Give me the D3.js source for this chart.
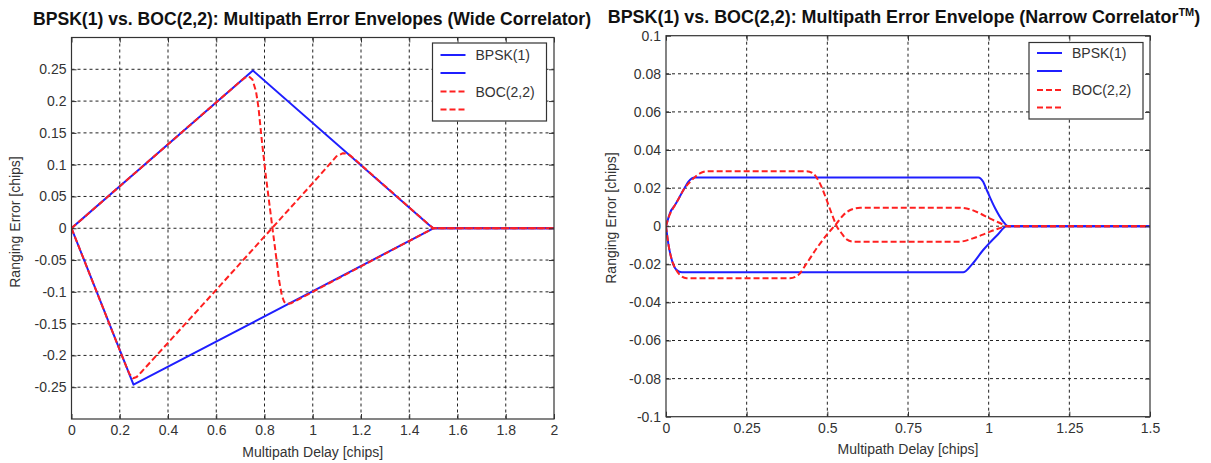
<!DOCTYPE html>
<html><head><meta charset="utf-8">
<script src="https://cdn.jsdelivr.net/npm/d3@7"></script>
<style>
body{margin:0;background:#fff;}
text{font-family:"Liberation Sans",Arial,sans-serif;}
</style>
</head><body>
<script>
// ---------- Wide correlator panel data ----------
const wideXTicks = [0, 0.2, 0.4, 0.6, 0.8, 1, 1.2, 1.4, 1.6, 1.8, 2];
const wideXTickLabels = ["0","0.2","0.4","0.6","0.8","1","1.2","1.4","1.6","1.8","2"];
const wideYTicks = [-0.25, -0.2, -0.15, -0.1, -0.05, 0, 0.05, 0.1, 0.15, 0.2, 0.25];
const wideYTickLabels = ["-0.25","-0.2","-0.15","-0.1","-0.05","0","0.05","0.1","0.15","0.2","0.25"];

const wideBpskUpperX = [0, 0.752, 1.48, 1.5, 2];
const wideBpskUpperY = [0, 0.248, 0.006, 0, 0];
const wideBpskLowerX = [0, 0.257, 1.48, 1.5, 2];
const wideBpskLowerY = [0, -0.246, -0.004, 0, 0];
const wideBocUpperX = [0, 0.70, 0.72, 0.735, 0.75, 0.765, 0.775, 0.79, 0.806, 0.82, 0.833, 0.847, 0.861, 0.872, 0.882, 0.895, 0.91, 1.48, 1.5, 2];
const wideBocUpperY = [0, 0.231, 0.237, 0.239, 0.234, 0.215, 0.19, 0.134, 0.081, 0.039, 0, -0.041, -0.083, -0.106, -0.116, -0.119, -0.118, -0.004, 0, 0];
const wideBocLowerX = [0, 0.22, 0.24, 0.255, 0.27, 0.29, 0.595, 0.776, 1.0, 1.098, 1.125, 1.145, 1.16, 1.48, 1.5, 2];
const wideBocLowerY = [0, -0.211, -0.229, -0.236, -0.234, -0.226, -0.099, -0.023, 0.071, 0.113, 0.118, 0.117, 0.113, 0.006, 0, 0];

// ---------- Narrow correlator panel data ----------
const narrowXTicks = [0, 0.25, 0.5, 0.75, 1, 1.25, 1.5];
const narrowXTickLabels = ["0","0.25","0.5","0.75","1","1.25","1.5"];
const narrowYTicks = [-0.1, -0.08, -0.06, -0.04, -0.02, 0, 0.02, 0.04, 0.06, 0.08, 0.1];
const narrowYTickLabels = ["-0.1","-0.08","-0.06","-0.04","-0.02","0","0.02","0.04","0.06","0.08","0.1"];

const narrowBpskUpperX = [0, 0.007, 0.012, 0.028, 0.054, 0.069, 0.08, 0.09, 0.968, 0.983, 0.994, 1.02, 1.045, 1.061, 1.5];
const narrowBpskUpperY = [0, 0.0041, 0.0068, 0.0111, 0.019, 0.0233, 0.0251, 0.0256, 0.0256, 0.0233, 0.019, 0.0094, 0.0024, 0, 0];
const narrowBpskLowerX = [0, 0.007, 0.018, 0.033, 0.049, 0.921, 0.947, 0.983, 1.027, 1.056, 1.5];
const narrowBpskLowerY = [0, -0.009, -0.0177, -0.023, -0.0242, -0.0242, -0.0203, -0.0125, -0.0046, 0, 0];
const narrowBocUpperX = [0, 0.009, 0.022, 0.037, 0.054, 0.08, 0.105, 0.131, 0.436, 0.456, 0.477, 0.498, 0.513, 0.529, 0.544, 0.56, 0.581, 0.91, 0.951, 0.992, 1.033, 1.059, 1.5];
const narrowBocUpperY = [0, 0.005, 0.0094, 0.0137, 0.019, 0.0242, 0.0277, 0.0289, 0.0289, 0.0277, 0.0225, 0.0137, 0.0068, 0, -0.0037, -0.0069, -0.0081, -0.0081, -0.0064, -0.0037, -0.0011, 0, 0];
const narrowBocLowerX = [0, 0.007, 0.018, 0.03, 0.043, 0.064, 0.384, 0.41, 0.436, 0.467, 0.498, 0.529, 0.55, 0.571, 0.602, 0.91, 0.941, 0.972, 1.003, 1.033, 1.059, 1.5];
const narrowBocLowerY = [0, -0.009, -0.0177, -0.0225, -0.0256, -0.0273, -0.0273, -0.0256, -0.0195, -0.0116, -0.0046, 0.0015, 0.0059, 0.0085, 0.0097, 0.0097, 0.0089, 0.0068, 0.0041, 0.0018, 0, 0];

const legendLabels = ["BPSK(1)", "", "BOC(2,2)", ""];

const BLUE = "#1f1fff", RED = "#ff2020";

const svg = d3.select("body").append("svg")
  .attr("width", 1211).attr("height", 463)
  .style("display", "block");
svg.append("rect").attr("width", 1211).attr("height", 463).attr("fill", "#fff");

function zip(xs, ys) { return xs.map((v, i) => [v, ys[i]]); }

function panel(cfg, idx) {
  const x = d3.scaleLinear().domain(cfg.xDomain).range([cfg.left, cfg.right]);
  const y = d3.scaleLinear().domain(cfg.yDomain).range([cfg.bottom, cfg.top]);
  const g = svg.append("g");

  // grid
  const gx = cfg.xTicks.filter(v => v > cfg.xDomain[0] && v < cfg.xDomain[1]);
  const gy = cfg.yTicks.filter(v => v > cfg.yDomain[0] && v < cfg.yDomain[1]);
  g.append("g").selectAll("line").data(gx).join("line")
    .attr("x1", d => x(d)).attr("x2", d => x(d))
    .attr("y1", cfg.top).attr("y2", cfg.bottom)
    .attr("stroke", "#222").attr("stroke-width", 1).attr("stroke-dasharray", "3,3");
  g.append("g").selectAll("line").data(gy).join("line")
    .attr("x1", cfg.left).attr("x2", cfg.right)
    .attr("y1", d => y(d)).attr("y2", d => y(d))
    .attr("stroke", "#222").attr("stroke-width", 1).attr("stroke-dasharray", "3,3");

  // data lines
  const clipId = "clip" + idx;
  svg.append("clipPath").attr("id", clipId).append("rect")
    .attr("x", cfg.left).attr("y", cfg.top - 2)
    .attr("width", cfg.right - cfg.left).attr("height", cfg.bottom - cfg.top + 4);
  const line = d3.line().x(d => x(d[0])).y(d => y(d[1])).curve(cfg.curve);
  const lg = g.append("g").attr("clip-path", `url(#${clipId})`);
  cfg.series.forEach(s => {
    lg.append("path").datum(zip(s.x, s.y))
      .attr("d", line).attr("fill", "none")
      .attr("stroke", s.color).attr("stroke-width", 2)
      .attr("stroke-linejoin", "round")
      .attr("stroke-dasharray", s.dash ? "6,3" : null);
  });

  // axes with inward ticks
  const fmtX = (d, i) => cfg.xTickLabels[i];
  const fmtY = (d, i) => cfg.yTickLabels[i];
  const axB = g.append("g").attr("transform", `translate(0,${cfg.bottom})`)
    .call(d3.axisBottom(x).tickValues(cfg.xTicks).tickFormat(fmtX).tickSizeInner(-5).tickSizeOuter(0).tickPadding(6));
  const axL = g.append("g").attr("transform", `translate(${cfg.left},0)`)
    .call(d3.axisLeft(y).tickValues(cfg.yTicks).tickFormat(fmtY).tickSizeInner(-5).tickSizeOuter(0).tickPadding(5));
  const axT = g.append("g").attr("transform", `translate(0,${cfg.top})`)
    .call(d3.axisTop(x).tickValues(cfg.xTicks).tickFormat("").tickSizeInner(-5).tickSizeOuter(0));
  const axR = g.append("g").attr("transform", `translate(${cfg.right},0)`)
    .call(d3.axisRight(y).tickValues(cfg.yTicks).tickFormat("").tickSizeInner(-5).tickSizeOuter(0));
  [axB, axL, axT, axR].forEach(a => {
    a.select(".domain").remove();
    a.selectAll(".tick line").attr("stroke", "#333");
    a.selectAll("text").attr("fill", "#333").style("font-size", "14px")
      .style("font-family", "'Liberation Sans', Arial, sans-serif");
  });
  g.append("rect").attr("x", cfg.left).attr("y", cfg.top)
    .attr("width", cfg.right - cfg.left).attr("height", cfg.bottom - cfg.top)
    .attr("fill", "none").attr("stroke", "#333").attr("stroke-width", 1.2);

  // axis labels
  g.append("text").attr("x", (cfg.left + cfg.right) / 2).attr("y", cfg.xLabelY)
    .attr("text-anchor", "middle").attr("fill", "#333").style("font-size", "14px")
    .text("Multipath Delay [chips]");
  g.append("text").attr("transform", `translate(${cfg.yLabelX},${cfg.yLabelCY}) rotate(-90)`)
    .attr("text-anchor", "middle").attr("fill", "#333").style("font-size", "14px")
    .text("Ranging Error [chips]");

  // title
  const t = g.append("text").attr("x", cfg.titleX).attr("y", cfg.titleY)
    .attr("text-anchor", "middle").attr("fill", "#111")
    .style("font-size", cfg.titleSize + "px").style("font-weight", "bold");
  t.append("tspan").text(cfg.title);
  if (cfg.sup) {
    t.append("tspan").attr("dy", -7).style("font-size", "11px").text(cfg.sup);
    t.append("tspan").attr("dy", 7).text(")");
  }

  // legend
  const L = cfg.legend;
  const lgd = g.append("g");
  lgd.append("rect").attr("x", L.x).attr("y", L.y).attr("width", L.w).attr("height", L.h)
    .attr("fill", "#fff").attr("stroke", "#333").attr("stroke-width", 1.2);
  const legStyles = [
    { color: BLUE, dash: false }, { color: BLUE, dash: false },
    { color: RED, dash: true }, { color: RED, dash: true }
  ];
  legendLabels.forEach((lab, i) => {
    const cy = L.rows[i];
    lgd.append("line").attr("x1", L.x + 8).attr("x2", L.x + 33)
      .attr("y1", cy).attr("y2", cy)
      .attr("stroke", legStyles[i].color).attr("stroke-width", 2)
      .attr("stroke-dasharray", legStyles[i].dash ? "6,3" : null);
    if (lab) lgd.append("text").attr("x", L.x + 43).attr("y", cy + 5)
      .attr("fill", "#333").style("font-size", "14px").text(lab);
  });
}

panel({
  left: 71.5, right: 554, top: 37.5, bottom: 419,
  xDomain: [0, 2], yDomain: [-0.3, 0.3],
  xTicks: wideXTicks, xTickLabels: wideXTickLabels,
  yTicks: wideYTicks, yTickLabels: wideYTickLabels,
  xLabelY: 457, yLabelX: 20, yLabelCY: 222,
  title: "BPSK(1) vs. BOC(2,2): Multipath Error Envelopes (Wide Correlator)",
  titleX: 312, titleY: 25, titleSize: 17.6,
  curve: d3.curveLinear,
  legend: { x: 432.5, y: 43, w: 114, h: 78, rows: [55, 73, 91.5, 109.5] },
  series: [
    { x: wideBpskUpperX, y: wideBpskUpperY, color: BLUE, dash: false },
    { x: wideBpskLowerX, y: wideBpskLowerY, color: BLUE, dash: false },
    { x: wideBocUpperX, y: wideBocUpperY, color: RED, dash: true },
    { x: wideBocLowerX, y: wideBocLowerY, color: RED, dash: true }
  ]
}, 0);

panel({
  left: 666, right: 1150, top: 35.7, bottom: 416.7,
  xDomain: [0, 1.5], yDomain: [-0.1, 0.1],
  xTicks: narrowXTicks, xTickLabels: narrowXTickLabels,
  yTicks: narrowYTicks, yTickLabels: narrowYTickLabels,
  xLabelY: 454, yLabelX: 616, yLabelCY: 218,
  title: "BPSK(1) vs. BOC(2,2): Multipath Error Envelope (Narrow Correlator",
  sup: "TM",
  titleX: 904, titleY: 23, titleSize: 17.9,
  curve: d3.curveMonotoneX,
  legend: { x: 1029, y: 42.5, w: 114, h: 76.5, rows: [53, 71, 90, 107.5] },
  series: [
    { x: narrowBpskUpperX, y: narrowBpskUpperY, color: BLUE, dash: false },
    { x: narrowBpskLowerX, y: narrowBpskLowerY, color: BLUE, dash: false },
    { x: narrowBocUpperX, y: narrowBocUpperY, color: RED, dash: true },
    { x: narrowBocLowerX, y: narrowBocLowerY, color: RED, dash: true }
  ]
}, 1);
</script>
</body></html>
